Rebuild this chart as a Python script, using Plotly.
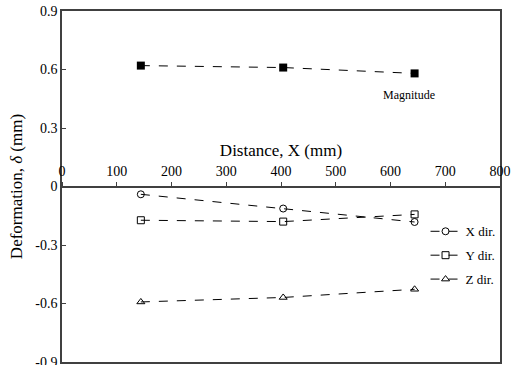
import plotly.graph_objects as go

distance = [144, 404, 644]
magnitude = [0.62, 0.61, 0.58]
x_dir = [-0.04, -0.113, -0.182]
y_dir = [-0.173, -0.18, -0.143]
z_dir = [-0.592, -0.569, -0.527]

FONT = "Liberation Serif"
line = dict(color="black", width=1, dash="dash")

fig = go.Figure()
fig.add_trace(go.Scatter(x=distance, y=magnitude, mode="lines+markers", name="Magnitude",
                         line=line, marker=dict(symbol="square", size=8, color="black"),
                         showlegend=False))
for name, vals, sym, g in [("X dir.", x_dir, "circle-open", "a"),
                           ("Y dir.", y_dir, "square-open", "b"),
                           ("Z dir.", z_dir, "triangle-up-open", "c")]:
    fig.add_trace(go.Scatter(x=distance, y=vals, mode="lines+markers", name=name,
                             legendgroup=g, line=line,
                             marker=dict(symbol=sym, size=7, color="black",
                                         line=dict(color="black", width=1))))
# invisible trace on the frame axis so it is drawn
fig.add_trace(go.Scatter(x=[0], y=[0], xaxis="x2", yaxis="y", mode="markers",
                         marker=dict(opacity=0), showlegend=False, hoverinfo="skip"))

fig.add_annotation(x=645, y=0.58, xref="x", yref="y", text="Magnitude", showarrow=False,
                   yshift=-22, xshift=-6, font=dict(family=FONT, size=12, color="black"))

fig.update_layout(
    width=517, height=365,
    margin=dict(l=62, r=17, t=11, b=3),
    plot_bgcolor="white", paper_bgcolor="white",
    font=dict(family=FONT, size=13, color="black"),
    showlegend=True,
    legend=dict(x=0.83, y=0.415, xanchor="left", yanchor="top", bgcolor="rgba(0,0,0,0)",
                font=dict(family=FONT, size=13, color="black"), tracegroupgap=4,
                traceorder="grouped", itemwidth=30),
    xaxis=dict(range=[0, 800], dtick=100, tick0=0, side="top", anchor="free", position=0.5,
               showgrid=False, zeroline=False, showline=True, linecolor="#404040", linewidth=1.5,
               ticks="outside", ticklen=4, tickcolor="#404040", automargin=False,
               ticklabeloverflow="allow",
               title=dict(text="Distance, X (mm)", font=dict(family=FONT, size=17, color="black"), standoff=2),
               tickfont=dict(family=FONT, size=14, color="black")),
    xaxis2=dict(range=[0, 800], overlaying="x", anchor="y", side="bottom",
                showline=True, mirror=True, linecolor="#404040", linewidth=1.5,
                showticklabels=False, ticks="", showgrid=False, zeroline=False, automargin=False),
    yaxis=dict(range=[-0.9, 0.9], showgrid=False, zeroline=False,
               showline=True, mirror=True, linecolor="#404040", linewidth=1.5,
               ticks="inside", ticklen=4, tickcolor="#404040", automargin=False,
               ticklabeloverflow="allow",
               tickvals=[-0.9, -0.6, -0.3, 0, 0.3, 0.6, 0.9],
               ticktext=["-0.9", "-0.6", "-0.3", "0", "0.3", "0.6", "0.9"],
               title=dict(text="Deformation, <i>δ</i> (mm)", font=dict(family=FONT, size=17, color="black"), standoff=8),
               tickfont=dict(family=FONT, size=14, color="black")),
)

fig.write_html("out.html", config={"displayModeBar": False},
               post_script="document.body.style.margin='0';")
